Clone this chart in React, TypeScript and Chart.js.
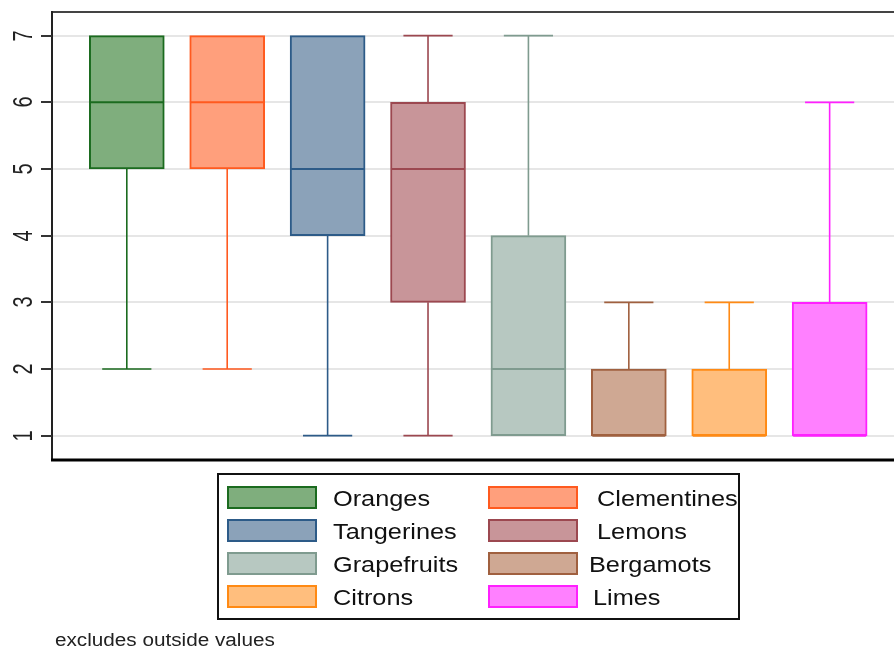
import React, { useEffect, useRef } from "react";
import { Chart, registerables } from "chart.js";

Chart.register(...registerables);

const categories = ["Oranges", "Clementines", "Tangerines", "Lemons", "Grapefruits", "Bergamots", "Citrons", "Limes"];
const lowerWhisker = [2, 2, 1, 1, 1, 1, 1, 1];
const lowerQuartile = [5, 5, 4, 3, 1, 1, 1, 1];
const medianValues = [6, 6, 5, 5, 2, 1, 1, 1];
const upperQuartile = [7, 7, 7, 6, 4, 2, 2, 3];
const upperWhisker = [7, 7, 7, 7, 7, 3, 3, 6];
const yTickValues = [1, 2, 3, 4, 5, 6, 7];
const footnoteText = "excludes outside values";

const fillColors = ["#7fae7d", "#ff9f7c", "#8ba2b9", "#c89599", "#b7c8c1", "#cfa893", "#ffbe7d", "#ff80ff"];
const strokeColors = ["#1b6b1f", "#ff5a1f", "#2d5b88", "#9c4850", "#7f9b8f", "#a0603f", "#ff8a14", "#ff20ff"];

const FONT = "'Liberation Sans', Arial, sans-serif";

const boxPlotPlugin = {
  id: "stataBox",
  beforeDatasetsDraw(chart: any) {
    const { ctx, chartArea, scales } = chart;
    const xs = scales.x;
    const ys = scales.y;
    ctx.save();
    ctx.strokeStyle = "#e6e6e6";
    ctx.lineWidth = 2;
    yTickValues.forEach((v) => {
      const y = Math.round(ys.getPixelForValue(v));
      ctx.beginPath();
      ctx.moveTo(chartArea.left, y);
      ctx.lineTo(chartArea.right, y);
      ctx.stroke();
    });
    ctx.lineWidth = 1.6;
    categories.forEach((_, i) => {
      const cx = xs.getPixelForValue(i + 1);
      const capL = xs.getPixelForValue(i + 1 - 0.245);
      const capR = xs.getPixelForValue(i + 1 + 0.245);
      ctx.strokeStyle = strokeColors[i];
      const yUw = ys.getPixelForValue(upperWhisker[i]);
      const yQ3 = ys.getPixelForValue(upperQuartile[i]);
      const yLw = ys.getPixelForValue(lowerWhisker[i]);
      const yQ1 = ys.getPixelForValue(lowerQuartile[i]);
      ctx.beginPath();
      if (upperWhisker[i] > upperQuartile[i]) {
        ctx.moveTo(cx, yQ3);
        ctx.lineTo(cx, yUw);
        ctx.moveTo(capL, yUw);
        ctx.lineTo(capR, yUw);
      }
      if (lowerWhisker[i] < lowerQuartile[i]) {
        ctx.moveTo(cx, yQ1);
        ctx.lineTo(cx, yLw);
        ctx.moveTo(capL, yLw);
        ctx.lineTo(capR, yLw);
      }
      ctx.stroke();
    });
    ctx.restore();
  },
  afterDatasetsDraw(chart: any) {
    const { ctx, scales } = chart;
    const ys = scales.y;
    ctx.save();
    ctx.lineWidth = 2;
    categories.forEach((_, i) => {
      const bar = chart.getDatasetMeta(i).data[0];
      const y = ys.getPixelForValue(medianValues[i]);
      ctx.strokeStyle = strokeColors[i];
      ctx.beginPath();
      ctx.moveTo(bar.x - bar.width / 2 + 1, y);
      ctx.lineTo(bar.x + bar.width / 2 - 1, y);
      ctx.stroke();
    });
    ctx.restore();
  },
  afterDraw(chart: any) {
    const { ctx, chartArea, scales } = chart;
    const ys = scales.y;
    ctx.save();
    ctx.strokeStyle = "#444";
    ctx.lineWidth = 2;
    ctx.beginPath();
    ctx.moveTo(chartArea.left - 1, chartArea.top);
    ctx.lineTo(chartArea.right, chartArea.top);
    ctx.stroke();
    ctx.strokeStyle = "#222";
    ctx.beginPath();
    ctx.moveTo(chartArea.left, chartArea.top - 1);
    ctx.lineTo(chartArea.left, chartArea.bottom + 1);
    ctx.stroke();
    ctx.strokeStyle = "#000";
    ctx.lineWidth = 3;
    ctx.beginPath();
    ctx.moveTo(chartArea.left - 1, chartArea.bottom);
    ctx.lineTo(chartArea.right, chartArea.bottom);
    ctx.stroke();
    ctx.strokeStyle = "#333";
    ctx.lineWidth = 2;
    ctx.fillStyle = "#222";
    ctx.font = `20px ${FONT}`;
    ctx.textAlign = "center";
    ctx.textBaseline = "alphabetic";
    yTickValues.forEach((v) => {
      const y = Math.round(ys.getPixelForValue(v));
      ctx.beginPath();
      ctx.moveTo(chartArea.left - 11, y);
      ctx.lineTo(chartArea.left, y);
      ctx.stroke();
      ctx.save();
      ctx.translate(chartArea.left - 20, y);
      ctx.scale(1.35, 1);
      ctx.rotate(-Math.PI / 2);
      ctx.fillText(String(v), 0, 0);
      ctx.restore();
    });
    const lx = 218, ly = 474, lw = 521, lh = 145;
    ctx.strokeStyle = "#111";
    ctx.lineWidth = 2;
    ctx.strokeRect(lx, ly, lw, lh);
    const swX = [227, 488];
    const textX = [[333, 333, 333, 333], [597, 597, 589, 593]];
    const rowTop = [486, 519, 552, 585];
    ctx.font = `22px ${FONT}`;
    ctx.textAlign = "left";
    categories.forEach((name, i) => {
      const row = Math.floor(i / 2);
      const col = i % 2;
      const sx = swX[col];
      const sy = rowTop[row];
      ctx.fillStyle = fillColors[i];
      ctx.fillRect(sx, sy, 90, 23);
      ctx.strokeStyle = strokeColors[i];
      ctx.lineWidth = 2;
      ctx.strokeRect(sx + 1, sy + 1, 88, 21);
      ctx.fillStyle = "#111";
      ctx.save();
      ctx.translate(textX[col][row], sy + 11.5 + 8.5);
      ctx.scale(1.15, 1);
      ctx.fillText(name, 0, 0);
      ctx.restore();
    });
    ctx.font = `18px ${FONT}`;
    ctx.fillStyle = "#222";
    ctx.save();
    ctx.translate(55, 646);
    ctx.scale(1.15, 1);
    ctx.fillText(footnoteText, 0, 0);
    ctx.restore();
    ctx.restore();
  },
};

export default function App() {
  const canvasRef = useRef<HTMLCanvasElement | null>(null);

  useEffect(() => {
    if (!canvasRef.current) return;
    const datasets = categories.map((name, i) => ({
      label: name,
      data: [{ x: i + 1, y: [lowerQuartile[i], upperQuartile[i]] }],
      backgroundColor: fillColors[i],
      borderColor: strokeColors[i],
      borderWidth: 2,
      borderSkipped: false,
      barThickness: 75,
      grouped: false,
    }));
    const chart = new Chart(canvasRef.current, {
      type: "bar",
      data: { datasets } as any,
      options: {
        responsive: false,
        animation: false,
        layout: { padding: { left: 52, top: 12, right: 0, bottom: 189 } },
        scales: {
          x: { type: "linear", min: 0.255, max: 8.641, offset: false, display: false, grid: { offset: false } },
          y: { type: "linear", min: 0.635, max: 7.355, display: false },
        },
        plugins: {
          legend: { display: false },
          tooltip: { enabled: false },
        },
      } as any,
      plugins: [boxPlotPlugin],
    });
    return () => chart.destroy();
  }, []);

  return (
    <div style={{ position: "absolute", left: 0, top: 0, width: 894, height: 649, background: "#fff" }}>
      <canvas ref={canvasRef} width={894} height={649} style={{ width: 894, height: 649, display: "block" }} />
    </div>
  );
}
